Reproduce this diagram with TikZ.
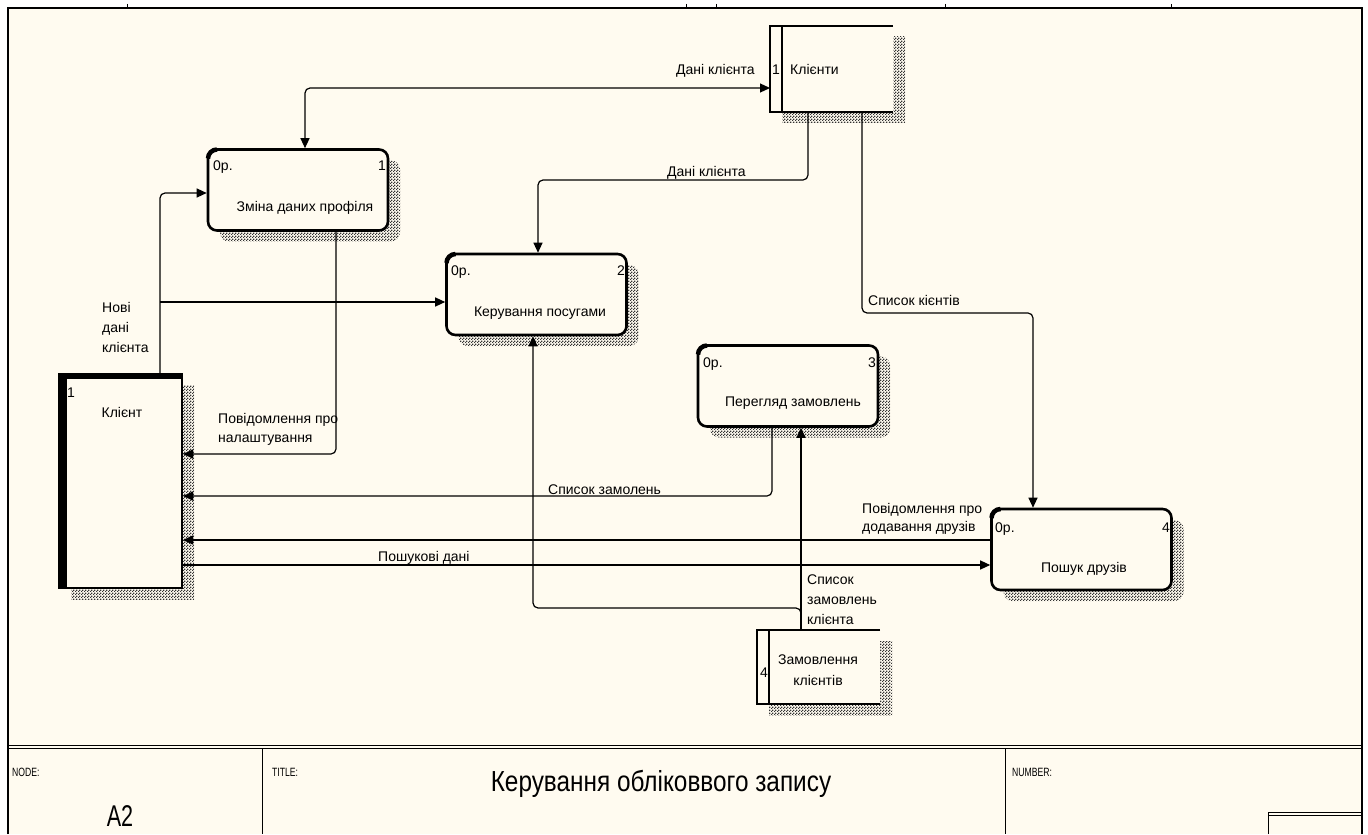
\documentclass[tikz,border=0pt]{standalone}
\usepackage{fontspec}
\setmainfont{Liberation Sans}
\newfontfamily\condfont[FakeStretch=0.72]{Liberation Sans}
\newfontfamily\titlefont[FakeStretch=0.84]{Liberation Sans}
\usetikzlibrary{arrows.meta,patterns,calc,shadows}
\definecolor{bg}{RGB}{255,251,240}
\pgfdeclarepatternformonly{idefdots}{\pgfqpoint{0pt}{0pt}}{\pgfqpoint{3pt}{3pt}}{\pgfqpoint{3pt}{3pt}}{%
  \pgfpathrectangle{\pgfqpoint{0pt}{0pt}}{\pgfqpoint{1.5pt}{1.5pt}}%
  \pgfpathrectangle{\pgfqpoint{1.5pt}{1.5pt}}{\pgfqpoint{1.5pt}{1.5pt}}%
  \pgfusepath{fill}}
\begin{document}
\begin{tikzpicture}[x=1pt,y=-1pt,
  conn/.style={line width=1.2pt, rounded corners=5pt},
  arr/.style={conn, -{Triangle[length=10pt,width=9pt]}},
  arrboth/.style={conn, {Triangle[length=10pt,width=9pt]}-{Triangle[length=10pt,width=9pt]}},
  shade/.style={general shadow={shadow xshift=12pt, shadow yshift=-11pt, pattern=idefdots, pattern color=black!80}},
  proc/.style={draw, line width=2.6pt, rounded corners=9pt, fill=bg, shade, inner sep=0pt, minimum width=180pt, minimum height=81pt},
  ent/.style={draw, line width=2pt, fill=bg, shade, inner sep=0pt},
  store/.style={fill=bg, shade, inner sep=0pt, outer sep=0pt},
  storeline/.style={line width=2.2pt},
  lbl/.style={font=\fontsize{14}{19}\selectfont, inner sep=0pt, align=left, anchor=base west},
  lblc/.style={font=\fontsize{14}{21}\selectfont, inner sep=0pt, align=center, anchor=base},
  lble/.style={font=\fontsize{14}{19}\selectfont, inner sep=0pt, anchor=base east},
  corner/.style={line width=4.5pt},
  frameline/.style={line width=1.2pt},
  small/.style={font=\condfont\fontsize{12}{14}\selectfont, inner sep=0pt, anchor=base west}
]
% page and frame
\fill[white] (0,0) rectangle (1368,834);
\fill[bg] (8,8) rectangle (1362,834);
\draw[frameline] (8,834) -- (8,8) -- (1362,8) -- (1362,834);
\draw[line width=2pt] (8,8) -- (1362,8);
\foreach \tx in {127,686,716,945,1171} \draw[line width=1pt] (\tx,4) -- (\tx,8);
\draw[line width=1pt] (8,745) -- (1362,745);
\draw[line width=1pt] (8,748.5) -- (1362,748.5);
\draw[line width=1pt] (262,748.5) -- (262,834);
\draw[line width=1pt] (1005,748.5) -- (1005,834);
\draw[line width=1pt] (1268,834) -- (1268,812) -- (1362,812);
\draw[line width=1pt] (1268,815) -- (1362,815);
\node[small] (tnode) at (12,776) {NODE:};
\node[small] (ttitle) at (272,776) {TITLE:};
\node[small] (tnum) at (1012,776) {NUMBER:};
\node[font=\condfont\fontsize{30}{34}\selectfont, inner sep=0pt, anchor=base] (tA2) at (120,826) {A2};
\node[font=\titlefont\fontsize{29}{32}\selectfont, inner sep=0pt, anchor=base] (tmain) at (661,791) {Керування обліковвого запису};

% processes
\node[proc] (p1) at (298,190) {};
\node[proc] (p2) at (536.5,294.5) {};
\node[proc] (p3) at (788,386) {};
\node[proc] (p4) at (1081.5,549.5) {};
\foreach \p in {p1,p2,p3,p4}
  \draw[corner] ($(\p.north west)+(1.3,10.3)$) arc[start angle=180,end angle=90,radius=9pt];

% external entity
\node[ent, minimum width=123pt, minimum height=214pt] (e1) at (120.5,481) {};
\fill ($(e1.north west)$) rectangle ($(e1.south west)+(9,0)$);
\fill ($(e1.north west)$) rectangle ($(e1.north east)+(0,6)$);

% data stores
\node[store, minimum width=123pt, minimum height=86pt] (s1) at (831.5,69) {};
\draw[storeline] (s1.north east) -- (s1.north west) -- (s1.south west) -- (s1.south east);
\draw[storeline] ($(s1.north west)+(12,0)$) -- ($(s1.south west)+(12,0)$);
\node[store, minimum width=123pt, minimum height=74pt] (s4) at (818.5,667) {};
\draw[storeline] (s4.north east) -- (s4.north west) -- (s4.south west) -- (s4.south east);
\draw[storeline] ($(s4.north west)+(12,0)$) -- ($(s4.south west)+(12,0)$);

% texts in boxes
\node[lbl] (p1n) at (213,170) {0р.};
\node[lble] (p1k) at (386,170) {1};
\node[lblc] (p1t) at (305,211) {Зміна даних профіля};
\node[lbl] (p2n) at (451,275) {0р.};
\node[lble] (p2k) at (625,275) {2};
\node[lblc] (p2t) at (540,316) {Керування посугами};
\node[lbl] (p3n) at (703,367) {0р.};
\node[lble] (p3k) at (876,367) {3};
\node[lblc] (p3t) at (793,406) {Перегляд замовлень};
\node[lbl] (p4n) at (995,532) {0р.};
\node[lble] (p4k) at (1170,532) {4};
\node[lblc] (p4t) at (1084,572) {Пошук друзів};
\node[lbl] (e1n) at (67,397) {1};
\node[lblc] (e1t) at (122,417) {Клієнт};
\node[lblc] (s1n) at (776,75) {1};
\node[lbl] (s1t) at (790,75) {Клієнти};
\node[lblc] (s4n) at (764,677) {4};
\node[lblc] (s4t) at (818,685) {Замовлення\\клієнтів};

% connectors
\coordinate (b1) at (305,88);
\draw[arrboth] (b1 |- p1.north) -- (b1) -- (b1 -| s1.west);
\coordinate (b2) at (538,180);
\draw[arr] ($(s1.south west)+(38,0)$) |- (b2) -- (b2 |- p2.north);
\coordinate (b3) at (862,313);
\coordinate (b3b) at (1033,313);
\draw[arr] (b3 |- s1.south) -- (b3) -- (b3b) -- (b3b |- p4.north);
\coordinate (b4) at (160,193);
\draw[arr] (b4 |- e1.north) -- (b4) -- (b4 -| p1.west);
\coordinate (b4b) at (160,302);
\draw[arr] (b4b) -- (b4b -| p2.west);
\coordinate (b5) at (336,454);
\draw[arr] (b5 |- p1.south) -- (b5) -- (b5 -| e1.east);
\coordinate (b6) at (772,496);
\draw[arr] (b6 |- p3.south) -- (b6) -- (b6 -| e1.east);
\coordinate (b7) at (600,540);
\draw[arr] (b7 -| p4.west) -- (b7 -| e1.east);
\coordinate (b8) at (600,565);
\draw[arr] (b8 -| e1.east) -- (b8 -| p4.west);
\coordinate (b9) at (801,608);
\coordinate (b9b) at (533,608);
\draw[arr] (b9 |- s4.north) -- (b9 |- p3.south);
\draw[arr] (b9 |- s4.north) -- (b9) -- (b9b) -- (b9b |- p2.south);

% connector labels (base anchor = last line)
\node[lbl] (l1) at (676,75) {Дані клієнта};
\node[lbl] (l2) at (667,176) {Дані клієнта};
\node[lbl] (l3) at (868,305) {Список кієнтів};
\node[lbl, font=\fontsize{14}{20}\selectfont] (l4) at (102,352) {Нові\\дані\\клієнта};
\node[lbl] (l5) at (218,442) {Повідомлення про\\налаштування};
\node[lbl] (l6) at (548,494) {Список замолень};
\node[lbl, font=\fontsize{14}{18}\selectfont] (l7) at (862,531) {Повідомлення про\\додавання друзів};
\node[lbl] (l8) at (378,561) {Пошукові дані};
\node[lbl, font=\fontsize{14}{20}\selectfont] (l9) at (807,624) {Список\\замовлень\\клієнта};
\end{tikzpicture}
\end{document}
